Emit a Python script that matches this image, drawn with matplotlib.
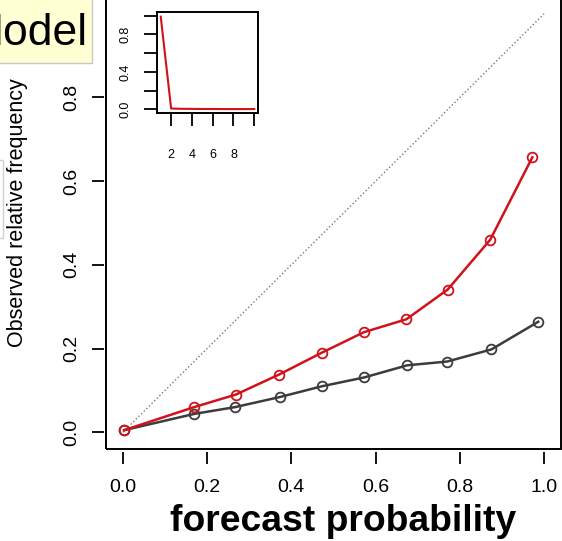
import matplotlib.pyplot as plt
from matplotlib.patches import Rectangle

plt.rcParams['font.family'] = ['Liberation Sans', 'DejaVu Sans']

# reliability curves: forecast probability bins vs observed frequency
prob_red = [0.003, 0.169, 0.268, 0.371, 0.472, 0.572, 0.673, 0.771, 0.872, 0.972]
obs_red = [0.005, 0.060, 0.090, 0.138, 0.190, 0.239, 0.270, 0.341, 0.460, 0.657]
prob_black = [0.003, 0.170, 0.266, 0.372, 0.473, 0.573, 0.675, 0.770, 0.875, 0.986]
obs_black = [0.005, 0.044, 0.060, 0.084, 0.110, 0.131, 0.160, 0.169, 0.198, 0.264]

# inset: relative share of forecasts per bin
inset_bins = [1, 2, 3, 4, 5, 6, 7, 8, 9, 10]
inset_share = [0.99, 0.008, 0.005, 0.004, 0.003, 0.003, 0.002, 0.002, 0.002, 0.002]

main_ticks = [0.0, 0.2, 0.4, 0.6, 0.8, 1.0]
main_xlabels = ['0.0', '0.2', '0.4', '0.6', '0.8', '1.0']
main_yticks = [0.0, 0.2, 0.4, 0.6, 0.8]
main_ylabels = ['0.0', '0.2', '0.4', '0.6', '0.8']
inset_yticks = [0.0, 0.2, 0.4, 0.6, 0.8, 1.0]
inset_ylabels = ['0.0', '', '0.4', '', '0.8', '']
inset_xticks = [2, 4, 6, 8, 10]
inset_xlabels = ['2', '4', '6', '8', '']

RED = '#D0121B'
DARK = '#3C3C3C'
W, H = 562, 541

fig = plt.figure(figsize=(W / 100, H / 100), dpi=100)

ax = fig.add_axes([106 / W, (H - 449) / H, 455 / W, 452 / H])
ax.set_xlim(-0.04, 1.04)
ax.set_ylim(-0.04, 1.04)

ax.plot([0, 1], [0, 1], linestyle=':', color='#7a7a7a', linewidth=1.0)
ax.plot(prob_black, obs_black, color=DARK, linewidth=1.8, marker='o',
        markersize=7, markerfacecolor='none', markeredgecolor=DARK, markeredgewidth=1.3)
ax.plot(prob_red, obs_red, color=RED, linewidth=1.8, marker='o',
        markersize=7, markerfacecolor='none', markeredgecolor=RED, markeredgewidth=1.3)

# R style: box around the plot, axes ticks slightly detached from it
for side in ['top', 'right']:
    ax.spines[side].set_visible(False)
for side in ['bottom', 'left']:
    ax.spines[side].set_position(('outward', 1.8))
    ax.spines[side].set_color('none')
ax.add_patch(Rectangle((0, 0), 1, 1, transform=ax.transAxes, fill=False,
                       edgecolor='black', linewidth=1.4, clip_on=False))

ax.set_xticks(main_ticks)
ax.set_xticklabels(main_xlabels, fontsize=14)
ax.set_yticks(main_yticks)
ax.set_yticklabels(main_ylabels, fontsize=14, rotation=90, va='center')
ax.tick_params(axis='both', direction='out', length=8.5, width=1.3, color='black')
ax.tick_params(axis='x', pad=11)
ax.tick_params(axis='y', pad=8)

fig.text(18 / W, (H - 213) / H, 'Observed relative frequency', rotation=90,
         ha='center', va='center', fontsize=15.5)
fig.text(343 / W, 10 / H, 'forecast probability', ha='center', va='baseline',
         fontsize=26.8, fontweight='bold')

# inset histogram-like line
ins = fig.add_axes([157 / W, (H - 113) / H, 101 / W, 101 / H])
ins.plot(inset_bins, inset_share, color=RED, linewidth=1.5)
ins.set_xlim(0.64, 10.36)
ins.set_ylim(-0.04, 1.04)
ins.set_xticks(inset_xticks)
ins.set_xticklabels(inset_xlabels, fontsize=9)
ins.set_yticks(inset_yticks)
ins.set_yticklabels(inset_ylabels, fontsize=9, rotation=90, va='center')
ins.tick_params(axis='both', direction='out', length=9.5, width=1.3)
ins.tick_params(axis='x', pad=16.5)
ins.tick_params(axis='y', pad=9)
for s in ins.spines.values():
    s.set_linewidth(1.4)

# partly visible title box in the top left corner
fig.patches.append(Rectangle((-20, H - 63), 112, 80, transform=None,
                             facecolor='#FFFFD4', edgecolor='#c8c8c8', linewidth=1))
fig.text(87 / W, (H - 45) / H, 'Model', ha='right', va='baseline', fontsize=32)

# edge of a neighbouring box at the left border
fig.patches.append(Rectangle((-20, H - 238), 23, 78, transform=None,
                             facecolor='white', edgecolor='#d0d0d0', linewidth=1))

fig.savefig('out.png', dpi=100)
